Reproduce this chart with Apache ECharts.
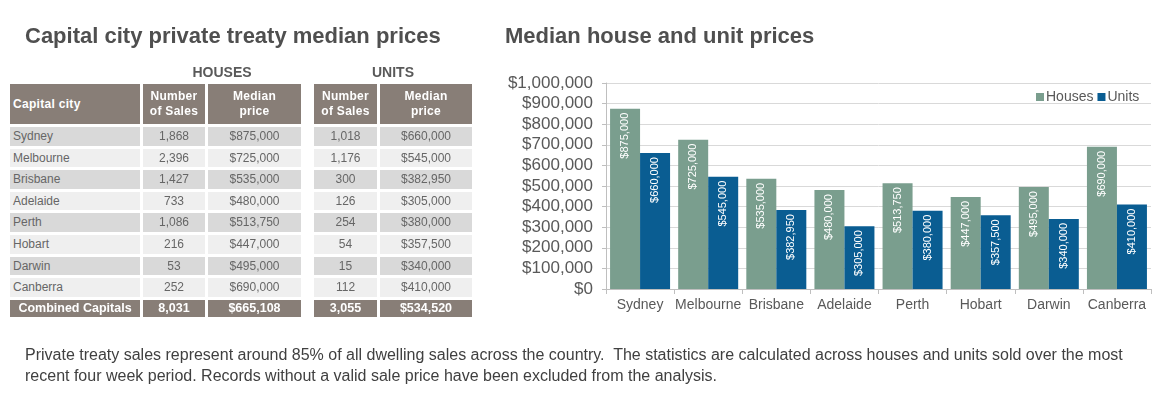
<!DOCTYPE html>
<html>
<head>
<meta charset="utf-8">
<script src="https://cdn.jsdelivr.net/npm/echarts@6/dist/echarts.min.js"></script>
<style>
  html, body { margin: 0; padding: 0; background: #fff; }
  body { width: 1160px; height: 395px; position: relative; overflow: hidden; font-family: "Liberation Sans", Arial, sans-serif; }
  #chart { position: absolute; left: 0; top: 0; width: 1160px; height: 395px; }
  .abs { position: absolute; box-sizing: border-box; white-space: nowrap; }
  .title { font-weight: bold; font-size: 22px; color: #4f4f4f; }
  .grp { font-weight: bold; font-size: 14px; color: #595959; text-align: center; }
  .hdr { background: #887e77; color: #fff; font-weight: bold; font-size: 12px; line-height: 15px; display: flex; align-items: center; justify-content: center; text-align: center; letter-spacing: 0.3px; }
  .hdr.left { justify-content: flex-start; padding-left: 3px; }
  .cell { font-size: 12px; color: #666; text-align: center; }
  .cell.left { text-align: left; padding-left: 3px; }
  .odd { background: #d9d9d9; }
  .even { background: #efefef; }
  .tot { background: #887e77; color: #fff; font-weight: bold; font-size: 12.5px; text-align: center; }
  .caption { font-size: 16px; color: #404040; line-height: 21px; }
</style>
</head>
<body>
<div id="chart"></div>
<div id="table"></div>
<script>
// ---- data ----
const cities = ['Sydney', 'Melbourne', 'Brisbane', 'Adelaide', 'Perth', 'Hobart', 'Darwin', 'Canberra'];
const houseSales = [1868, 2396, 1427, 733, 1086, 216, 53, 252];
const housePrices = [875000, 725000, 535000, 480000, 513750, 447000, 495000, 690000];
const unitSales = [1018, 1176, 300, 126, 254, 54, 15, 112];
const unitPrices = [660000, 545000, 382950, 305000, 380000, 357500, 340000, 410000];
const combinedLabel = 'Combined Capitals';
const combinedHouse = [8031, 665108];
const combinedUnit = [3055, 534520];
const seriesNames = ['Houses', 'Units'];
const tableTitle = 'Capital city private treaty median prices';
const chartTitle = 'Median house and unit prices';
const captionLines = [
  'Private treaty sales represent around 85% of all dwelling sales across the country.\u00a0 The statistics are calculated across houses and units sold over the most',
  'recent four week period. Records without a valid sale price have been excluded from the analysis.'
];

const num = v => v.toLocaleString('en-US');
const money = v => '$' + v.toLocaleString('en-US');

// ---- table (HTML) ----
const cols = [[10, 140], [143, 205], [208, 301], [314, 377], [380, 472]];
const t = document.getElementById('table');
function add(cls, x, y, w, h, text, extra) {
  const d = document.createElement('div');
  d.className = 'abs ' + cls;
  d.style.left = x + 'px'; d.style.top = y + 'px';
  d.style.width = w + 'px'; d.style.height = h + 'px';
  if (extra) Object.assign(d.style, extra);
  d.innerHTML = text;
  t.appendChild(d);
  return d;
}
add('title', 25, 22, 460, 28, tableTitle, { lineHeight: '28px' });
add('grp', 143, 63, 158, 18, 'HOUSES', { lineHeight: '18px' });
add('grp', 314, 63, 158, 18, 'UNITS', { lineHeight: '18px' });
const hdrTexts = ['Capital city', 'Number<br>of Sales', 'Median<br>price', 'Number<br>of Sales', 'Median<br>price'];
cols.forEach((c, i) => add('hdr' + (i === 0 ? ' left' : ''), c[0], 84, c[1] - c[0], 40, hdrTexts[i]));
cities.forEach((city, r) => {
  const y = 127 + r * 21.6, h = 18.6;
  const cls = r % 2 === 0 ? 'odd' : 'even';
  const vals = [city, num(houseSales[r]), money(housePrices[r]), num(unitSales[r]), money(unitPrices[r])];
  cols.forEach((c, i) => add('cell ' + cls + (i === 0 ? ' left' : ''), c[0], y, c[1] - c[0], h, vals[i], { lineHeight: h + 'px' }));
});
const totVals = [combinedLabel, num(combinedHouse[0]), money(combinedHouse[1]), num(combinedUnit[0]), money(combinedUnit[1])];
cols.forEach((c, i) => add('tot', c[0], 300, c[1] - c[0], 16.5, totVals[i], { lineHeight: '16.5px' }));
add('caption', 25, 344, 1135, 44, captionLines.join('<br>'));

// ---- chart (ECharts) ----
const chart = echarts.init(document.getElementById('chart'), null, { renderer: 'canvas' });
const labelCfg = {
  show: true, position: 'insideTop', rotate: 90, align: 'right', verticalAlign: 'middle',
  distance: 4, color: '#ffffff', fontSize: 11, fontFamily: '"Liberation Sans", Arial, sans-serif',
  formatter: p => money(p.value)
};
chart.setOption({
  animation: false,
  textStyle: { fontFamily: '"Liberation Sans", Arial, sans-serif' },
  title: {
    text: chartTitle, left: 500, top: 18,
    textStyle: { fontSize: 22, fontWeight: 'bold', color: '#4f4f4f', lineHeight: 28 }
  },
  legend: {
    data: seriesNames, left: 1031, top: 85, icon: 'rect', itemWidth: 8, itemHeight: 8, itemGap: 4,
    textStyle: { fontSize: 14, color: '#595959', padding: [0, 0, 0, -3] }
  },
  grid: { left: 606, right: 9, top: 83, bottom: 106, containLabel: false },
  xAxis: {
    type: 'category', data: cities,
    axisLine: { lineStyle: { color: '#bfbfbf' } },
    axisTick: { show: true, length: 5, lineStyle: { color: '#bfbfbf' } },
    axisLabel: { fontSize: 14, color: '#595959', margin: 9, interval: 0 }
  },
  yAxis: {
    type: 'value', min: 0, max: 1000000, interval: 100000,
    axisLine: { show: true, lineStyle: { color: '#bfbfbf' } },
    axisTick: { show: true, length: 4, lineStyle: { color: '#bfbfbf' } },
    splitLine: { lineStyle: { color: '#d9d9d9' } },
    axisLabel: { fontSize: 17, color: '#595959', margin: 13, formatter: v => money(v) }
  },
  series: [
    { name: seriesNames[0], type: 'bar', data: housePrices, barWidth: 30, barGap: '0%', itemStyle: { color: '#7a9e8e' }, label: labelCfg },
    { name: seriesNames[1], type: 'bar', data: unitPrices, barWidth: 30, barGap: '0%', itemStyle: { color: '#0a5d92' }, label: labelCfg }
  ]
});
</script>
</body>
</html>
